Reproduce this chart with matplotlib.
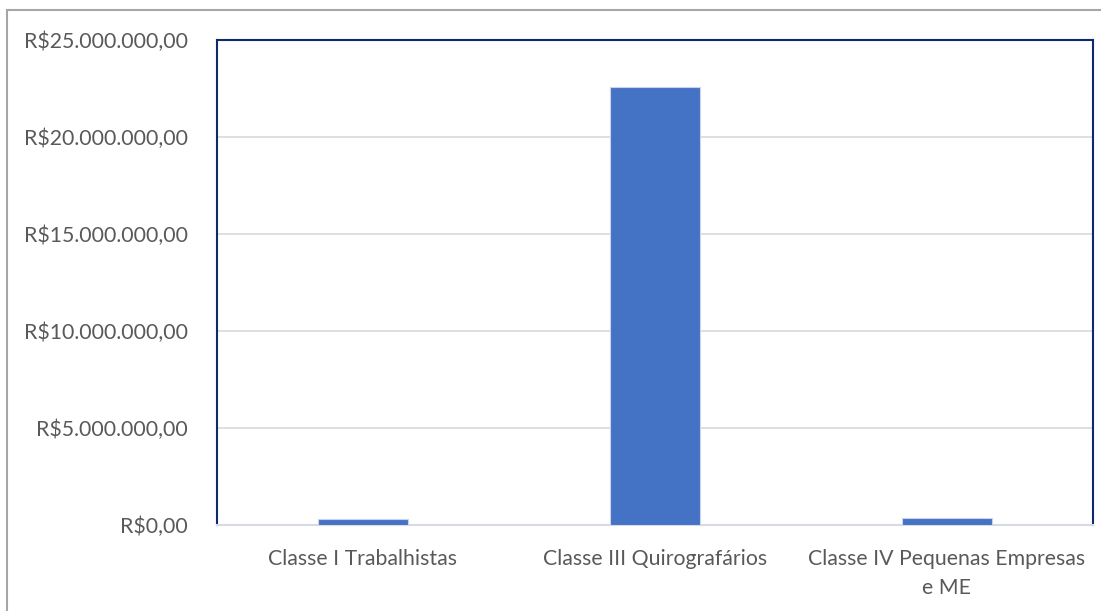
import matplotlib.pyplot as plt
from matplotlib.patches import Rectangle
from matplotlib.ticker import FuncFormatter

# --------------------------- 数据 --------------------------- #
categories = ["Classe I Trabalhistas", "Classe III Quirografários",
              "Classe IV Pequenas Empresas\ne ME"]
values = [320000, 22600000, 380000]
y_ticks = [0, 5000000, 10000000, 15000000, 20000000, 25000000]

plt.rcParams['font.family'] = ['Lato', 'DejaVu Sans']

TEXT = '#595959'
BAR = '#4472C4'
FS = 15.3


def brl(v, pos=None):
    s = f"{v:,.2f}"  # 25,000,000.00
    s = s.replace(',', 'X').replace('.', ',').replace('X', '.')
    return "R$" + s


fig = plt.figure(figsize=(11.01, 6.11), dpi=100)
ax = fig.add_axes([0.197, 0.1408, 0.7957, 0.7937])

# 外框
fig.patches.append(Rectangle((7 / 1101, -0.05), 1.2, 1 - 10 / 611 + 0.05,
                             transform=fig.transFigure, fill=False,
                             edgecolor='#A6A6A6', linewidth=1.5))

x = range(len(categories))
ax.bar(x, values, width=0.31, color=BAR, edgecolor='#C9D3EE', linewidth=0.8, zorder=3)

ax.set_xlim(-0.5, 2.5)
ax.set_ylim(0, 25000000)
ax.set_yticks(y_ticks)
ax.yaxis.set_major_formatter(FuncFormatter(brl))
ax.set_xticks(list(x))
ax.set_xticklabels(categories, multialignment='center', linespacing=1.6)

ax.grid(axis='y', color='#D9D9D9', linewidth=1.2, zorder=0)
ax.tick_params(axis='y', length=0, pad=21, labelsize=FS, labelcolor=TEXT)
ax.tick_params(axis='x', length=0, pad=17, labelsize=FS, labelcolor=TEXT)

for side in ['top', 'left', 'right']:
    ax.spines[side].set_color('#0D2A6B')
    ax.spines[side].set_linewidth(1.5)
ax.spines['bottom'].set_color('#D6DAE6')
ax.spines['bottom'].set_linewidth(1.5)

fig.savefig('out.png', dpi=100)
